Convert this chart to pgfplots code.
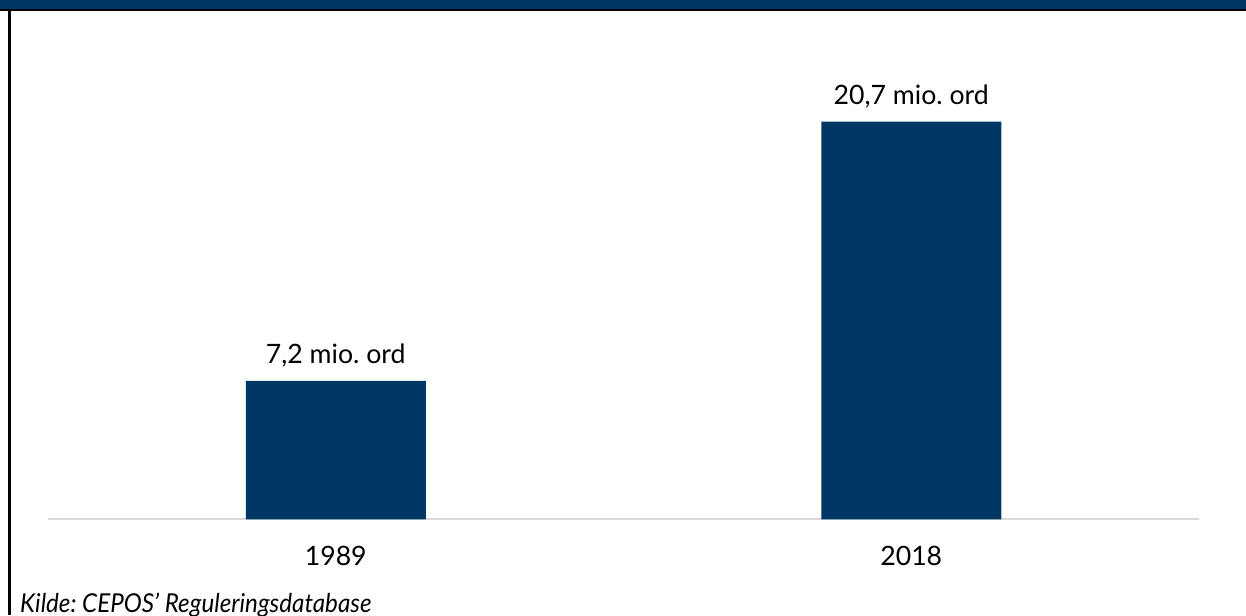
\documentclass[border=0pt]{standalone}
\usepackage{pgfplots}
\pgfplotsset{compat=1.18}
\usepackage{fontspec}
\setmainfont{Lato}
\frenchspacing
\definecolor{cblue}{RGB}{0,56,101}
\definecolor{cgray}{RGB}{217,217,217}
\begin{document}
\frenchspacing
\begin{tikzpicture}
\useasboundingbox (0,0) rectangle (934.5pt,461.25pt);
\clip (0,0) rectangle (934.5pt,461.25pt);
% header band
\fill[cblue] (0,454.5pt) rectangle (934.5pt,461.25pt);
\draw[black, line width=1.6pt] (0,453.6pt) -- (934.5pt,453.6pt);
\draw[black, line width=1.8pt] (7.1pt,0) -- (7.1pt,454.4pt);
\begin{axis}[
  at={(36pt,71.8pt)}, anchor=south west,
  scale only axis, width=863.25pt, height=360.2pt,
  xmin=-0.5, xmax=1.5, ymin=0, ymax=25,
  axis x line*=bottom, axis y line=none,
  x axis line style={cgray, line width=1.2pt, -},
  xtick={0,1}, xticklabels={1989,2018},
  major tick length=0pt, ytick=\empty,
  xticklabel style={anchor=base, yshift=-34.3pt, font=\fontsize{20}{24}\selectfont},
  clip=false,
  ybar, bar width=135pt,
  point meta=explicit symbolic,
  nodes near coords,
  every node near coord/.append style={anchor=base, yshift=13pt, font=\fontsize{20}{24}\selectfont\frenchspacing, text=black},
]
\addplot[fill=cblue, draw=none] coordinates {(0,7.2) [7,2 mio. ord] (1,20.7) [20,7 mio. ord]};
\end{axis}
\node[anchor=base west, inner sep=0pt, xscale=0.93, transform shape, font=\fontsize{19.5}{23}\selectfont\itshape\frenchspacing] at (15pt,2pt) {Kilde: CEPOS’ Reguleringsdatabase};
\end{tikzpicture}
\end{document}
